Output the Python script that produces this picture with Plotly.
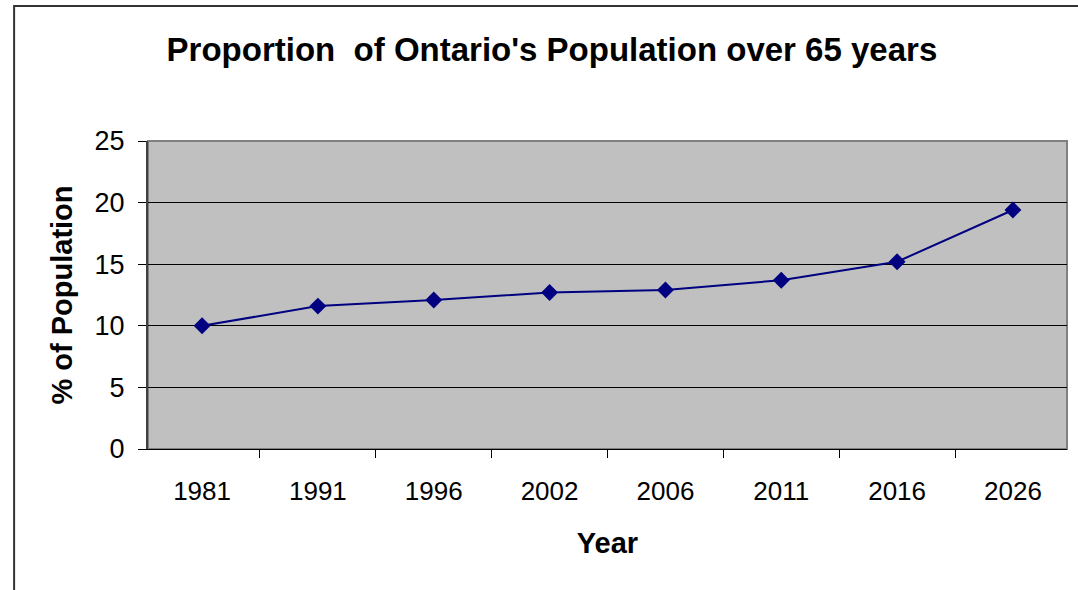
import plotly.graph_objects as go

# Share of Ontario's population aged 65 and over, by year (%)
years = ["1981", "1991", "1996", "2002", "2006", "2011", "2016", "2026"]
share_over_65 = [10.0, 11.6, 12.1, 12.7, 12.9, 13.7, 15.2, 19.4]

y_ticks = [0, 5, 10, 15, 20, 25]

NAVY = "#000080"
FONT = "Liberation Sans, Arial, sans-serif"

fig = go.Figure()
fig.add_trace(go.Scatter(
    x=years,
    y=share_over_65,
    mode="lines+markers",
    line=dict(color=NAVY, width=2),
    marker=dict(symbol="diamond", size=13, color=NAVY),
    showlegend=False,
    hoverinfo="x+y",
))

fig.update_layout(
    width=1078,
    height=590,
    margin=dict(l=148, r=11, t=141, b=141),
    paper_bgcolor="white",
    plot_bgcolor="#C0C0C0",
    font=dict(family=FONT, color="black"),
    title=dict(
        text="<b>Proportion  of Ontario's Population over 65 years</b>",
        x=0.512, xanchor="center",
        y=0.917, yanchor="middle",
        font=dict(size=33, family=FONT, color="black"),
    ),
    xaxis=dict(
        type="category",
        tickson="boundaries",
        ticks="outside",
        ticklen=8,
        tickcolor="black",
        tickfont=dict(size=26, family=FONT),
        ticklabelstandoff=19,
        showline=True,
        linecolor="black",
        linewidth=1,
        showgrid=False,
        title=dict(text="<b>Year</b>", font=dict(size=29, family=FONT), standoff=27),
        fixedrange=True,
    ),
    yaxis=dict(
        range=[0, 25],
        tickvals=y_ticks,
        ticks="outside",
        ticklen=8,
        tickcolor="black",
        tickfont=dict(size=27, family=FONT),
        ticklabelstandoff=8,
        showline=True,
        linecolor="#404040",
        linewidth=2,
        showgrid=True,
        gridcolor="black",
        gridwidth=1,
        zeroline=False,
        title=dict(text="<b>% of Population</b>", font=dict(size=29, family=FONT), standoff=13),
        fixedrange=True,
    ),
    shapes=[
        # plot-area frame (top and right edges)
        dict(type="rect", xref="paper", yref="paper", x0=0, x1=1, y0=0, y1=1,
             line=dict(color="#808080", width=2), layer="below"),
        # outer chart frame
        dict(type="rect", xref="paper", yref="paper", x0=-0.1457, x1=1.05, y0=-0.6, y1=1.438,
             line=dict(color="#333333", width=2)),
    ],
)

fig.write_html("out.html")
